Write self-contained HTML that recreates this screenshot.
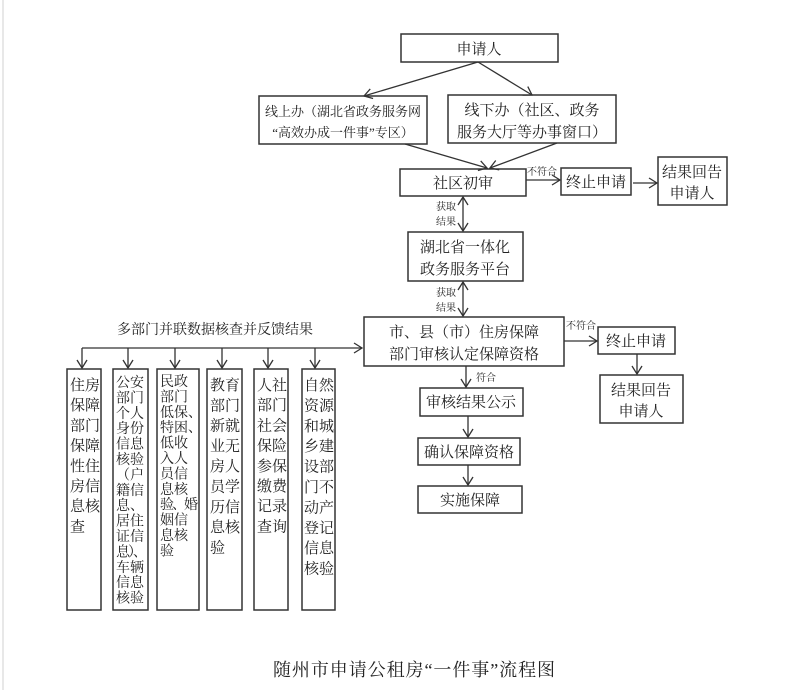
<!DOCTYPE html>
<html><head><meta charset="utf-8"><style>
html,body{margin:0;padding:0;background:#fff;}
svg{display:block;}
text{font-family:"Liberation Serif","Noto Serif CJK SC","Noto Sans CJK SC",serif;fill:#222;}
.b{fill:#fff;stroke:#333;stroke-width:1.5;}
.l{stroke:#333;stroke-width:1.3;fill:none;}
</style></head><body>
<svg width="799" height="690" viewBox="0 0 799 690">
<defs>
<marker id="a" markerWidth="12" markerHeight="12" refX="10" refY="6" orient="auto" markerUnits="userSpaceOnUse">
<polyline points="2,1 10,6 2,11" fill="none" stroke="#333" stroke-width="1.3"/></marker>
<marker id="s" markerWidth="12" markerHeight="12" refX="2" refY="6" orient="auto" markerUnits="userSpaceOnUse">
<polyline points="10,1 2,6 10,11" fill="none" stroke="#333" stroke-width="1.3"/></marker>
</defs>
<line x1="3" y1="0" x2="3" y2="690" stroke="#e8e8e8" stroke-width="2"/>

<rect class="b" x="401" y="34" width="157" height="28"/>
<text x="479" y="54" font-size="15" text-anchor="middle">申请人</text>
<rect class="b" x="259" y="96" width="168" height="48"/>
<text x="343" y="116" font-size="13" text-anchor="middle">线上办（湖北省政务服务网</text>
<text x="343" y="137" font-size="13" text-anchor="middle">“高效办成一件事”专区）</text>
<rect class="b" x="448" y="95" width="168" height="48"/>
<text x="532" y="115" font-size="15" text-anchor="middle">线下办（社区、政务</text>
<text x="532" y="137" font-size="15" text-anchor="middle">服务大厅等办事窗口）</text>

<rect class="b" x="400" y="169" width="126" height="27"/>
<text x="463" y="188" font-size="15" text-anchor="middle">社区初审</text>
<rect class="b" x="561" y="168" width="70" height="27"/>
<text x="596" y="187" font-size="15" text-anchor="middle">终止申请</text>
<rect class="b" x="658" y="157" width="69" height="48"/>
<text x="692" y="177" font-size="15" text-anchor="middle">结果回告</text>
<text x="692" y="198" font-size="15" text-anchor="middle">申请人</text>

<rect class="b" x="408" y="232" width="115" height="49"/>
<text x="465" y="252" font-size="15" text-anchor="middle">湖北省一体化</text>
<text x="465" y="274" font-size="15" text-anchor="middle">政务服务平台</text>

<rect class="b" x="364" y="317" width="200" height="49"/>
<text x="464" y="337" font-size="15" text-anchor="middle">市、县（市）住房保障</text>
<text x="464" y="359" font-size="15" text-anchor="middle">部门审核认定保障资格</text>
<rect class="b" x="598" y="327" width="77" height="27"/>
<text x="636" y="346" font-size="15" text-anchor="middle">终止申请</text>
<rect class="b" x="600" y="375" width="83" height="48"/>
<text x="641" y="395" font-size="15" text-anchor="middle">结果回告</text>
<text x="641" y="416" font-size="15" text-anchor="middle">申请人</text>

<rect class="b" x="420" y="388" width="103" height="28"/>
<text x="471" y="407" font-size="15" text-anchor="middle">审核结果公示</text>
<rect class="b" x="418" y="438" width="102" height="27"/>
<text x="469" y="457" font-size="15" text-anchor="middle">确认保障资格</text>
<rect class="b" x="418" y="486" width="104" height="27"/>
<text x="470" y="505" font-size="15" text-anchor="middle">实施保障</text>

<line class="l" x1="478" y1="62" x2="364" y2="96" marker-end="url(#a)"/>
<line class="l" x1="478" y1="62" x2="532" y2="95" marker-end="url(#a)"/>
<line class="l" x1="405" y1="144" x2="487" y2="168" marker-end="url(#a)"/>
<line class="l" x1="557" y1="143" x2="490" y2="168" marker-end="url(#a)"/>
<line class="l" x1="526" y1="180" x2="560" y2="180" marker-end="url(#a)"/>
<text x="527" y="175" font-size="10">不符合</text>
<line class="l" x1="633" y1="183" x2="657" y2="183" marker-end="url(#a)"/>
<line class="l" x1="463" y1="197" x2="463" y2="231" marker-start="url(#s)" marker-end="url(#a)"/>
<text x="436" y="210" font-size="10">获取</text>
<text x="436" y="225" font-size="10">结果</text>
<line class="l" x1="463" y1="282" x2="463" y2="316" marker-start="url(#s)" marker-end="url(#a)"/>
<text x="436" y="296" font-size="10">获取</text>
<text x="436" y="311" font-size="10">结果</text>
<line class="l" x1="564" y1="341" x2="597" y2="341" marker-end="url(#a)"/>
<text x="566" y="329" font-size="10">不符合</text>
<line class="l" x1="637" y1="354" x2="637" y2="374" marker-end="url(#a)"/>
<line class="l" x1="466" y1="366" x2="466" y2="387" marker-end="url(#a)"/>
<text x="476" y="381" font-size="10">符合</text>
<line class="l" x1="468" y1="416" x2="468" y2="437" marker-end="url(#a)"/>
<line class="l" x1="468" y1="465" x2="468" y2="485" marker-end="url(#a)"/>

<text x="215" y="334" font-size="14" text-anchor="middle">多部门并联数据核查并反馈结果</text>
<line class="l" x1="82" y1="348" x2="362" y2="348" marker-end="url(#a)"/>
<line class="l" x1="82" y1="348" x2="82" y2="368" marker-end="url(#a)"/>
<line class="l" x1="128" y1="348" x2="128" y2="368" marker-end="url(#a)"/>
<line class="l" x1="175" y1="348" x2="175" y2="368" marker-end="url(#a)"/>
<line class="l" x1="222" y1="348" x2="222" y2="368" marker-end="url(#a)"/>
<line class="l" x1="268" y1="348" x2="268" y2="368" marker-end="url(#a)"/>
<line class="l" x1="315" y1="348" x2="315" y2="368" marker-end="url(#a)"/>

<rect class="b" x="67" y="369" width="34" height="241"/>
<rect class="b" x="113" y="369" width="35" height="241"/>
<rect class="b" x="157" y="369" width="42" height="241"/>
<rect class="b" x="207" y="369" width="35" height="241"/>
<rect class="b" x="254" y="369" width="34" height="241"/>
<rect class="b" x="302" y="369" width="33" height="241"/>

<g font-size="15">
<text x="70" y="390"><tspan x="70">住房</tspan><tspan x="70" dy="20.2">保障</tspan><tspan x="70" dy="20.2">部门</tspan><tspan x="70" dy="20.2">保障</tspan><tspan x="70" dy="20.2">性住</tspan><tspan x="70" dy="20.2">房信</tspan><tspan x="70" dy="20.2">息核</tspan><tspan x="70" dy="20.2">查</tspan></text>
<text x="210" y="390"><tspan x="210">教育</tspan><tspan x="210" dy="20.3">部门</tspan><tspan x="210" dy="20.3">新就</tspan><tspan x="210" dy="20.3">业无</tspan><tspan x="210" dy="20.3">房人</tspan><tspan x="210" dy="20.3">员学</tspan><tspan x="210" dy="20.3">历信</tspan><tspan x="210" dy="20.3">息核</tspan><tspan x="210" dy="20.3">验</tspan></text>
<text x="257" y="390"><tspan x="257">人社</tspan><tspan x="257" dy="20.2">部门</tspan><tspan x="257" dy="20.2">社会</tspan><tspan x="257" dy="20.2">保险</tspan><tspan x="257" dy="20.2">参保</tspan><tspan x="257" dy="20.2">缴费</tspan><tspan x="257" dy="20.2">记录</tspan><tspan x="257" dy="20.2">查询</tspan></text>
<text x="304" y="390"><tspan x="304">自然</tspan><tspan x="304" dy="20.4">资源</tspan><tspan x="304" dy="20.4">和城</tspan><tspan x="304" dy="20.4">乡建</tspan><tspan x="304" dy="20.4">设部</tspan><tspan x="304" dy="20.4">门不</tspan><tspan x="304" dy="20.4">动产</tspan><tspan x="304" dy="20.4">登记</tspan><tspan x="304" dy="20.4">信息</tspan><tspan x="304" dy="20.4">核验</tspan></text>
</g>
<g font-size="14">
<text x="116" y="387"><tspan x="116">公安</tspan><tspan x="116" dy="15.4">部门</tspan><tspan x="116" dy="15.4">个人</tspan><tspan x="116" dy="15.4">身份</tspan><tspan x="116" dy="15.4">信息</tspan><tspan x="116" dy="15.4">核验</tspan><tspan x="116" dy="15.4">（户</tspan><tspan x="116" dy="15.4">籍信</tspan><tspan x="116" dy="15.4">息、</tspan><tspan x="116" dy="15.4">居住</tspan><tspan x="116" dy="15.4">证信</tspan><tspan x="116" dy="15.4" textLength="31">息）、</tspan><tspan x="116" dy="15.4">车辆</tspan><tspan x="116" dy="15.4">信息</tspan><tspan x="116" dy="15.4">核验</tspan></text>
<text x="160" y="386"><tspan x="160">民政</tspan><tspan x="160" dy="15.4">部门</tspan><tspan x="160" dy="15.4">低保、</tspan><tspan x="160" dy="15.4">特困、</tspan><tspan x="160" dy="15.4">低收</tspan><tspan x="160" dy="15.4">入人</tspan><tspan x="160" dy="15.4">员信</tspan><tspan x="160" dy="15.4">息核</tspan><tspan x="160" dy="15.4" textLength="38">验、婚</tspan><tspan x="160" dy="15.4">姻信</tspan><tspan x="160" dy="15.4">息核</tspan><tspan x="160" dy="15.4">验</tspan></text>
</g>

<text x="273" y="676" font-size="18" textLength="282" lengthAdjust="spacing">随州市申请公租房“一件事”流程图</text>
</svg>
</body></html>
